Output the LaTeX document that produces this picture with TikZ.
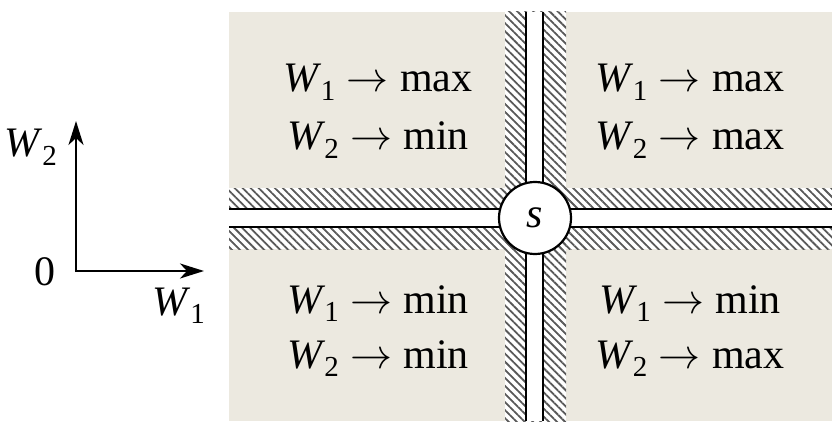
\RequirePackage{fix-cm}
\documentclass[tikz,border=0pt]{standalone}
\usepackage{fontspec}
\setmainfont{Liberation Serif}
\usepackage{tikz}
\usetikzlibrary{
  arrows.meta,
  positioning,
  patterns.meta
}
\usepackage{xcolor}
\definecolor{zonebg}{RGB}{236,233,224}
\newcommand{\wsub}[1]{\textit{W}\kern-0.02em\raisebox{-0.2em}{\fontsize{29}{30}\selectfont #1}}
\newcommand{\goal}[2]{\wsub{#1}\hspace{0.27em}$\rightarrow$\hspace{0.27em}#2}

\begin{document}
\begin{tikzpicture}[
  x=1pt, y=1pt,
  every node/.style={font=\fontsize{42}{50}\selectfont, inner sep=0pt},
  rule/.style={anchor=base},
  hatch/.style={fill=white, pattern={Lines[angle=-45, distance=5.7pt, line width=1.8pt]},
    pattern color=black!65},
  channel/.style={fill=white, draw=none},
  wall/.style={line width=2pt},
  axis/.style={-{Stealth[length=24pt, width=15pt, inset=7pt]}, line width=2.4pt}
]
  \useasboundingbox (0,0) rectangle (832,421);

  % Zones
  \fill[zonebg] (229,0) rectangle (832,409);

  % Hatched bands
  \fill[white] (229,172) rectangle (832,233);
  \fill[white] (505,0) rectangle (566,409);
  \path[hatch] (229,172) rectangle (832,233);
  \path[hatch] (505,0) rectangle (566,409);

  % Channels
  \path[channel] (229,194) rectangle (832,212);
  \path[channel] (526,0) rectangle (543,409);
  \draw[wall] (229,212) -- (832,212);
  \draw[wall] (229,194) -- (832,194);
  \draw[wall] (526,0) -- (526,409);
  \draw[wall] (543,0) -- (543,409);

  % Source
  \node[circle, draw, line width=2.2pt, fill=white, minimum size=72pt] (src) at (535,203) {\textit{s}};

  % Goals
  \node[rule] (tl1) at (378,329) {\goal{1}{max}};
  \node[rule] (tl2) at (378,271) {\goal{2}{min}};
  \node[rule] (tr1) at (690,329) {\goal{1}{max}};
  \node[rule] (tr2) at (690,271) {\goal{2}{max}};
  \node[rule] (bl1) at (378,108) {\goal{1}{min}};
  \node[rule] (bl2) at (378,53) {\goal{2}{min}};
  \node[rule] (br1) at (690,108) {\goal{1}{min}};
  \node[rule] (br2) at (690,53) {\goal{2}{max}};

  % Axes
  \coordinate (org) at (76,150);
  \coordinate (ytip) at (76,300);
  \coordinate (xtip) at (204,150);
  \draw[axis] ([yshift=-1.2pt]org) -- (ytip);
  \draw[axis] ([xshift=-1.2pt]org) -- (xtip);
  \node[anchor=base east] (zero) at (56,136) {0};
  \node[anchor=base east] (w2) at (57,264) {\wsub{2}};
  \node[anchor=base east] (w1) at (205,106) {\wsub{1}};

\end{tikzpicture}
\end{document}
